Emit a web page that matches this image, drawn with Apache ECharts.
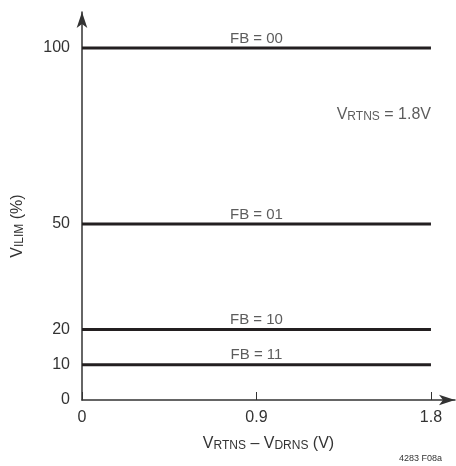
<!DOCTYPE html>
<html>
<head>
<meta charset="utf-8">
<script src="https://cdn.jsdelivr.net/npm/echarts@6/dist/echarts.min.js"></script>
<style>html,body{margin:0;padding:0;background:#fff}#c{width:456px;height:466px}</style>
</head>
<body>
<div id="c"></div>
<script>
// ---- data ----
const levels = [100, 50, 20, 10];
const fbLabels = ['FB = 00', 'FB = 01', 'FB = 10', 'FB = 11'];
const xRange = [0, 0.9, 1.8];
const xTicks = [0, 0.9, 1.8];
const yTicks = [0, 10, 20, 50, 100];
const notePos = [1.8, 81];
const figId = '4283 F08a';

const FONT = '"Liberation Sans Narrow", "Liberation Sans", Arial, sans-serif';
const INK = '#231f20';
const TXT = '#333333';

const richSub = {
  v: {fontSize: 16, lineHeight: 16, verticalAlign: 'top', fontFamily: FONT, color: TXT},
  sub: {fontSize: 12, lineHeight: 12, padding: [7, 0, 0, 0], verticalAlign: 'bottom', fontFamily: FONT, color: TXT},
  t: {fontSize: 16, lineHeight: 16, verticalAlign: 'top', fontFamily: FONT, color: TXT}
};

const series = levels.map((lv, i) => ({
  type: 'line',
  data: [[xRange[0], lv], [xRange[2], lv]],
  symbol: 'none',
  lineStyle: {color: INK, width: 3},
  silent: true,
  animation: false
}));
series.push({
  type: 'scatter',
  data: levels.map((lv, i) => ({value: [xRange[1], lv], label: {formatter: fbLabels[i]}})),
  symbolSize: 0,
  silent: true,
  animation: false,
  label: {show: true, position: 'top', distance: 2, fontFamily: FONT, fontSize: 15, color: TXT}
});
series.push({
  type: 'scatter',
  data: [notePos],
  symbolSize: 0,
  silent: true,
  animation: false,
  label: {
    show: true, position: 'left', distance: 0,
    formatter: '{v|V}{sub|RTNS}{t| = 1.8V}',
    rich: richSub
  }
});

const chart = echarts.init(document.getElementById('c'), null, {renderer: 'canvas'});
chart.setOption({
  animation: false,
  backgroundColor: '#fff',
  grid: {left: 82, right: 1, top: 12, bottom: 66, outerBoundsMode: 'none', containLabel: false},
  xAxis: {
    type: 'value', min: 0, max: 1.924,
    axisLine: {show: true, lineStyle: {color: TXT, width: 1.5}, symbol: ['none', 'arrow'], symbolSize: [8, 16]},
    axisTick: {show: true, inside: true, length: 8, customValues: xTicks, lineStyle: {color: TXT, width: 1}},
    axisLabel: {customValues: xTicks, formatter: v => String(v), fontFamily: FONT, fontSize: 16, color: TXT, margin: 10},
    splitLine: {show: false},
    name: '{v|V}{sub|RTNS}{t| – V}{sub|DRNS}{t| (V)}',
    nameLocation: 'middle', nameGap: 36,
    nameTextStyle: {rich: richSub}
  },
  yAxis: {
    type: 'value', min: 0, max: 110.2,
    axisLine: {show: true, lineStyle: {color: TXT, width: 1.5}, symbol: ['none', 'arrow'], symbolSize: [8, 16]},
    axisTick: {show: false},
    axisLabel: {customValues: yTicks, fontFamily: FONT, fontSize: 16, color: TXT, margin: 12},
    splitLine: {show: false},
    name: '{v|V}{sub|ILIM}{t| (%)}',
    nameLocation: 'middle', nameGap: 56,
    nameTextStyle: {rich: richSub, padding: [0, 40, 0, 0]}
  },
  graphic: [{
    type: 'text', right: 14, bottom: 3,
    style: {text: figId, font: '9px ' + FONT, fill: TXT}
  }],
  series: series
});
</script>
</body>
</html>
